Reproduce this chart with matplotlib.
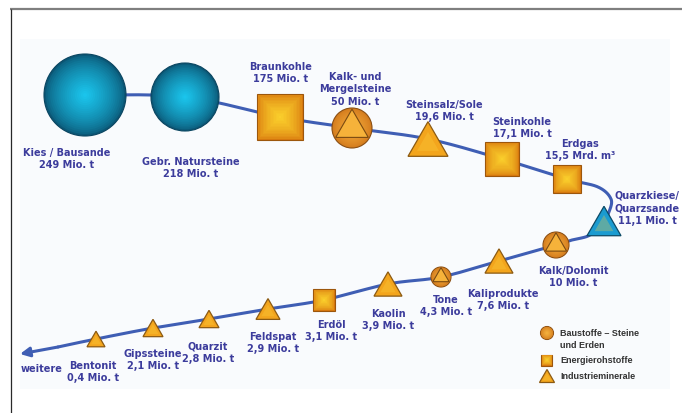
import matplotlib.pyplot as plt
import matplotlib.patches as mpatches
import matplotlib.colors as mcolors
import numpy as np

# Rohstoffe, Fördermengen und Gruppe
names = ["Kies / Bausande", "Gebr. Natursteine", "Braunkohle", "Kalk- und\nMergelsteine",
         "Steinsalz/Sole", "Steinkohle", "Erdgas", "Quarzkiese/\nQuarzsande",
         "Kalk/Dolomit", "Kaliprodukte", "Tone", "Kaolin", "Erdöl", "Feldspat",
         "Quarzit", "Gipssteine", "Bentonit"]
values = [249, 218, 175, 50, 19.6, 17.1, 15.5, 11.1, 10, 7.6, 4.3, 3.9, 3.1, 2.9, 2.8, 2.1, 0.4]
units = ["Mio. t"] * 6 + ["Mrd. m³"] + ["Mio. t"] * 10
groups = ["bau", "bau", "energie", "bau_ind", "ind", "energie", "energie", "quarz",
          "bau_ind", "ind", "bau_ind", "ind", "energie", "ind", "ind", "ind", "ind"]
legend_labels = ["Baustoffe – Steine\nund Erden", "Energierohstoffe", "Industrieminerale"]

# Lage der Symbole (Pixel), Symbolgröße (halbe Breite) und Beschriftungsposition
node_xy = [(85, 96), (185, 98), (280, 118), (352, 129), (428, 140), (502, 160),
           (567, 180), (604, 222), (556, 246), (499, 262), (441, 278), (388, 285),
           (324, 301), (268, 310), (209, 320), (153, 329), (96, 340)]
node_size = [41, 34, 23, 20, 20, 17, 14, 17, 13, 14, 10, 14, 11, 12, 10, 10, 9]
label_xy = [(67, 148), (191, 157), (281, 62), (355, 72), (444, 100), (522, 117),
            (580, 139), (647, 191), (573, 266), (503, 289), (446, 295), (388, 309),
            (331, 320), (273, 332), (208, 342), (153, 349), (93, 361)]

TEXT = "#3c3c9c"
LINE = "#3f5eb4"
FONT = "DejaVu Sans"

W, H = 682, 414
fig = plt.figure(figsize=(W / 100, H / 100), dpi=100)
ax = fig.add_axes([0, 0, 1, 1])
ax.set_xlim(0, W)
ax.set_ylim(H, 0)
ax.set_aspect("equal")
ax.axis("off")

# Rahmen und leicht getönter Hintergrund
ax.add_patch(mpatches.Rectangle((20, 40), 650, 350, facecolor="#f9fbfd", edgecolor="none", zorder=0))
ax.plot([10, W], [10, 10], color="#7f7f7f", lw=1.6, solid_capstyle="butt", zorder=1)
ax.plot([11, 11], [10, H], color="#2a2a2a", lw=0.9, solid_capstyle="butt", zorder=1)


def catmull_rom(pts, n=24):
    p = np.asarray(pts, float)
    p = np.vstack([p[0], p, p[-1]])
    out = []
    t = np.linspace(0, 1, n, endpoint=False)[:, None]
    for i in range(1, len(p) - 2):
        p0, p1, p2, p3 = p[i - 1], p[i], p[i + 1], p[i + 2]
        out.append(0.5 * (2 * p1 + (-p0 + p2) * t + (2 * p0 - 5 * p1 + 4 * p2 - p3) * t ** 2
                          + (-p0 + 3 * p1 - 3 * p2 + p3) * t ** 3))
    out.append(p[-2][None])
    return np.vstack(out)


# Verbindungslinie mit Schleife rechts und Pfeil nach links
route = node_xy[:7] + [(598, 188), (611, 200), (609, 213)] + node_xy[7:8] + \
        [(590, 236), (572, 241)] + node_xy[8:] + [(58, 348)]
curve = catmull_rom(route)
ax.plot(curve[:, 0], curve[:, 1], color=LINE, lw=2.2, zorder=2, solid_capstyle="round")
ax.annotate("", xy=(20, 355), xytext=(58, 348),
            arrowprops=dict(arrowstyle="-|>", color=LINE, lw=2.2, mutation_scale=14,
                            shrinkA=0, shrinkB=0), zorder=2)


def blend(c1, c2, f):
    a, b = np.array(mcolors.to_rgb(c1)), np.array(mcolors.to_rgb(c2))
    return tuple(a + (b - a) * f)


def circle(x, y, r, inner, outer, edge, z=3):
    ax.add_patch(mpatches.Circle((x, y), r, facecolor=outer, edgecolor=edge, lw=0.8, zorder=z))
    for k in range(1, 20):
        f = k / 20
        ax.add_patch(mpatches.Circle((x, y), r * (1 - f), facecolor=blend(outer, inner, f ** 0.7),
                                     edgecolor="none", zorder=z))


def square(x, y, h, inner="#fbd12c", outer="#d9790f", edge="#9c560c", z=3):
    ax.add_patch(mpatches.Rectangle((x - h, y - h), 2 * h, 2 * h, facecolor=outer,
                                    edgecolor=edge, lw=0.8, zorder=z))
    for k in range(1, 16):
        f = k / 16
        s = h * (1 - f)
        ax.add_patch(mpatches.Rectangle((x - s, y - s), 2 * s, 2 * s,
                                        facecolor=blend(outer, inner, f ** 0.6),
                                        edgecolor="none", zorder=z))


def tri_pts(x, y, hw):
    ht = hw * 1.732
    return [(x - hw, y + ht / 2), (x + hw, y + ht / 2), (x, y - ht / 2)]


def triangle(x, y, hw, face="#f3a51d", edge="#8c5a12", z=3):
    ax.add_patch(mpatches.Polygon(tri_pts(x, y, hw), closed=True, facecolor=face,
                                  edgecolor=edge, lw=0.9, joinstyle="miter", zorder=z))
    ax.add_patch(mpatches.Polygon(tri_pts(x, y + hw * 0.12, hw * 0.55), closed=True,
                                  facecolor=blend(face, "#fcd040", 0.5), edgecolor="none",
                                  alpha=0.6, zorder=z))


def draw_node(kind, x, y, s, z=3):
    if kind == "bau":
        circle(x, y, s, "#1bc8f0", "#0b5877", "#0a4560", z)
    elif kind == "energie":
        square(x, y, s, z=z)
    elif kind == "ind":
        triangle(x, y, s, z=z)
    elif kind == "quarz":
        triangle(x, y, s, face="#1b9bd0", edge="#0c4a66", z=z)
    else:
        # Kreis mit einbeschriebenem Dreieck
        circle(x, y, s, "#f3a93a", "#d27a1c", "#8a4e12", z)
        ax.add_patch(mpatches.Polygon(tri_pts(x, y - 0.25 * s * 0.94, 0.866 * s * 0.94),
                                      closed=True, facecolor="#f6b23a", edgecolor="#7a4a12",
                                      lw=0.8, joinstyle="miter", zorder=z + 1))


for kind, (x, y), s in zip(groups, node_xy, node_size):
    draw_node(kind, x, y, s)

# Beschriftungen
for name, v, unit, (lx, ly) in zip(names, values, units, label_xy):
    txt = name + "\n" + f"{v:g}".replace(".", ",") + " " + unit
    ax.text(lx, ly, txt, ha="center", va="top", color=TEXT, fontsize=7, fontweight="bold",
            family=FONT, linespacing=1.3, zorder=5)
ax.text(42, 369, "weitere", ha="center", va="center", color=TEXT, fontsize=7,
        fontweight="bold", family=FONT, zorder=5)

# Legende
circle(547, 334, 6.5, "#f6b440", "#d27a1c", "#8a4e12", z=5)
square(547, 361, 5.5, z=5)
triangle(547, 377, 7.5, z=5)
leg_y = [334, 361, 377]
for lab, ly in zip(legend_labels, leg_y):
    ax.text(560, ly - 5, lab, ha="left", va="top", color="#333333", fontsize=6.5,
            fontweight="bold", family="Liberation Sans", linespacing=1.5, zorder=6)

fig.savefig("out.png", dpi=100)
